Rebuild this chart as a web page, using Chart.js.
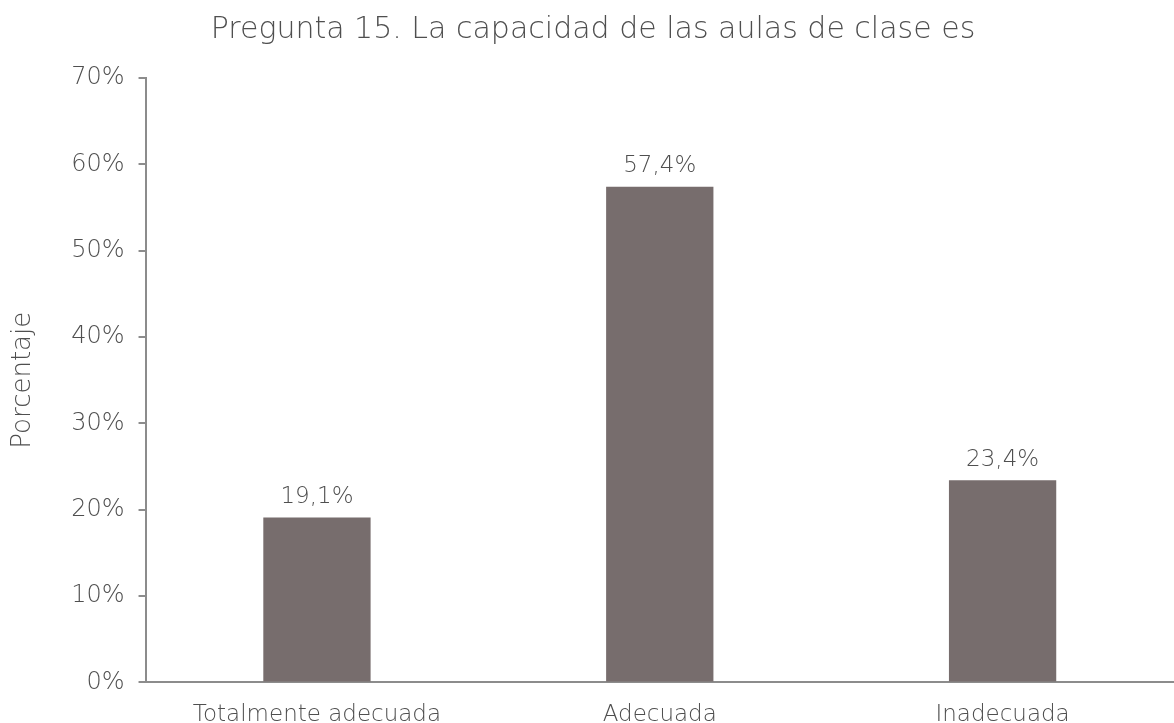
<!DOCTYPE html>
<html><head><meta charset="utf-8">
<script src="https://cdn.jsdelivr.net/npm/chart.js@4.4.1/dist/chart.umd.min.js"></script>
<style>html,body{margin:0;padding:0;background:#fff;}canvas{display:block;}</style>
</head><body>
<canvas id="c" width="1174" height="723"></canvas>
<script>
const categories = ["Totalmente adecuada", "Adecuada", "Inadecuada"];
const values = [19.1, 57.4, 23.4];
const valueLabels = ["19,1%", "57,4%", "23,4%"];
const yTicks = [0, 10, 20, 30, 40, 50, 60, 70];
const titleText = "Pregunta 15. La capacidad de las aulas de clase es";
const yTitle = "Porcentaje";

const FONT = "'DejaVu Sans', sans-serif";
const W = '200';
const TEXT = "#4f4f4f";
const AXIS = "#8c8c8c";

const labelPlugin = {
  id: 'valLabels',
  afterDatasetsDraw(chart) {
    const ctx = chart.ctx;
    const meta = chart.getDatasetMeta(0);
    ctx.save();
    ctx.font = W + " 23px " + FONT;
    ctx.fillStyle = TEXT;
    ctx.textAlign = 'center';
    ctx.textBaseline = 'bottom';
    meta.data.forEach((bar, i) => {
      ctx.fillText(valueLabels[i], bar.x, bar.y - 9);
    });
    ctx.restore();
  }
};

new Chart(document.getElementById('c'), {
  type: 'bar',
  data: {
    labels: categories,
    datasets: [{
      data: values,
      backgroundColor: '#776d6d',
      categoryPercentage: 1,
      barPercentage: 0.313
    }]
  },
  options: {
    responsive: false,
    animation: false,
    layout: { padding: { top: 0, right: -12, left: 0, bottom: -25 } },
    plugins: {
      legend: { display: false },
      tooltip: { enabled: false },
      title: {
        display: true,
        text: titleText,
        color: TEXT,
        font: { family: FONT, size: 30, weight: W },
        padding: { top: 12, bottom: 30 }
      }
    },
    scales: {
      x: {
        grid: { display: false, drawTicks: false },
        border: { display: true, color: AXIS, width: 2 },
        ticks: { color: TEXT, font: { family: FONT, size: 23, weight: W }, padding: 19, maxRotation: 0 }
      },
      y: {
        min: 0, max: 70,
        afterBuildTicks(scale) { scale.ticks = yTicks.map(v => ({ value: v })); },
        grid: { display: true, drawOnChartArea: false, drawTicks: true, tickLength: 7, color: AXIS, lineWidth: 2 },
        border: { display: true, color: AXIS, width: 2 },
        ticks: { color: TEXT, font: { family: FONT, size: 24, weight: W }, padding: 14,
                 callback: v => v + '%' },
        title: { display: true, text: yTitle, color: TEXT, font: { family: FONT, size: 26, weight: W }, padding: { top: 8, bottom: 18 } }
      }
    }
  },
  plugins: [labelPlugin]
});
</script>
</body></html>
